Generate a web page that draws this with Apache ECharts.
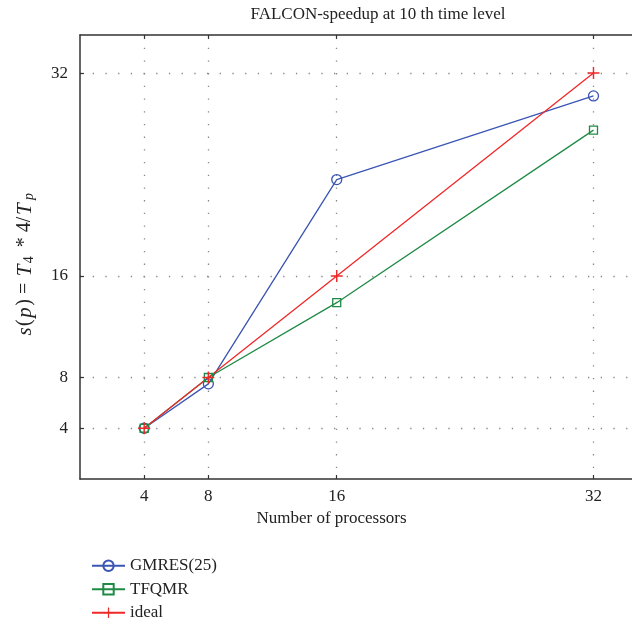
<!DOCTYPE html>
<html><head><meta charset="utf-8">
<script src="https://cdn.jsdelivr.net/npm/echarts@6/dist/echarts.min.js"></script>
<style>html,body{margin:0;padding:0;background:#fff}#c{width:632px;height:627px}</style>
</head><body><div id="c"></div>
<script>
const processors = [4, 8, 16, 32];
const tickValues = [4, 8, 16, 32];
const gmres = [4, 7.5, 23.6, 30.2];
const tfqmr = [4, 8, 13.9, 27.5];
const ideal = [4, 8, 16, 32];
const seriesNames = ['GMRES(25)', 'TFQMR', 'ideal'];

const FONT = '"Liberation Serif", "DejaVu Serif", serif';
const plus = 'path://M4.4,0h1.2v4.4h4.4v1.2h-4.4v4.4h-1.2v-4.4h-4.4v-1.2h4.4z';
const pairs = arr => processors.map((p, i) => [p, arr[i]]);
const chart = echarts.init(document.getElementById('c'), null, {renderer: 'canvas'});
const axisCommon = {
  type: 'value',
  axisLine: {show: true, lineStyle: {color: '#333', width: 1.5}},
  axisTick: {show: true, inside: true, length: 4, customValues: tickValues, lineStyle: {color: '#333', width: 1.2}},
  axisLabel: {customValues: tickValues, color: '#222', fontFamily: FONT, fontSize: 17},
  splitLine: {show: true, lineStyle: {color: '#888', width: 1.3, type: [1.3, 11.4]}}
};
chart.setOption({
  animation: false,
  title: {
    text: 'FALCON-speedup at 10 th time level', left: 373, top: 1, textAlign: 'center',
    textStyle: {fontFamily: FONT, fontSize: 17, fontWeight: 'normal', color: '#222'}
  },
  grid: {left: 80, top: 35, bottom: 148, right: 0, show: false, containLabel: false},
  xAxis: [Object.assign({}, axisCommon, {
    min: 0, max: 34.4,
    name: 'Number of processors', nameLocation: 'middle', nameGap: 31,
    nameTextStyle: {fontFamily: FONT, fontSize: 17, color: '#222', padding: [0, 49, 0, 0]},
    axisLabel: Object.assign({}, axisCommon.axisLabel, {margin: 9})
  }), {
    type: 'value', position: 'top', min: 0, max: 34.4,
    axisLine: {show: true, lineStyle: {color: '#333', width: 1.5}},
    axisTick: {show: true, inside: true, length: 4, customValues: tickValues, lineStyle: {color: '#333', width: 1.2}},
    axisLabel: {show: false}, splitLine: {show: false}
  }],
  yAxis: Object.assign({}, axisCommon, {
    min: 0, max: 35,
    name: '{i|s}({i|p}) = {i|T}{s|4} * 4/{i|T}{sp|p}', nameLocation: 'middle', nameGap: 44,
    nameTextStyle: {
      fontFamily: FONT, fontSize: 20, color: '#222', padding: [0, 16, 0, 0],
      rich: {
        i: {fontFamily: FONT, fontSize: 21, fontStyle: 'italic', color: '#222', padding: [0, 1.5, 0, 1.5]},
        s: {fontFamily: FONT, fontSize: 14, color: '#222', verticalAlign: 'bottom', padding: [8, 4, 0, 0]},
        sp: {fontFamily: FONT, fontSize: 14, fontStyle: 'italic', color: '#222', verticalAlign: 'bottom', padding: [8, 0, 0, 2]}
      }
    },
    axisLabel: Object.assign({}, axisCommon.axisLabel, {margin: 12})
  }),
  legend: {
    orient: 'vertical', left: 86, top: 551, height: 76, itemWidth: 33, itemHeight: 13, itemGap: 4,
    textStyle: {fontFamily: FONT, fontSize: 17, color: '#222', lineHeight: 19.5},
    data: seriesNames
  },
  series: [
    {name: seriesNames[0], type: 'line', data: pairs(gmres), symbol: 'circle', symbolSize: 10,
     lineStyle: {color: '#3a55b4', width: 1.3},
     itemStyle: {color: 'rgba(255,255,255,0)', borderColor: '#3a55b4', borderWidth: 1.3}},
    {name: seriesNames[1], type: 'line', data: pairs(tfqmr), symbol: 'rect', symbolSize: 8,
     lineStyle: {color: '#1f8a45', width: 1.3},
     itemStyle: {color: 'rgba(255,255,255,0)', borderColor: '#1f8a45', borderWidth: 1.3}},
    {name: seriesNames[2], type: 'line', data: pairs(ideal), symbol: plus, symbolSize: 12,
     lineStyle: {color: '#f02828', width: 1.3},
     itemStyle: {color: '#f02828'}}
  ]
});
</script></body></html>
